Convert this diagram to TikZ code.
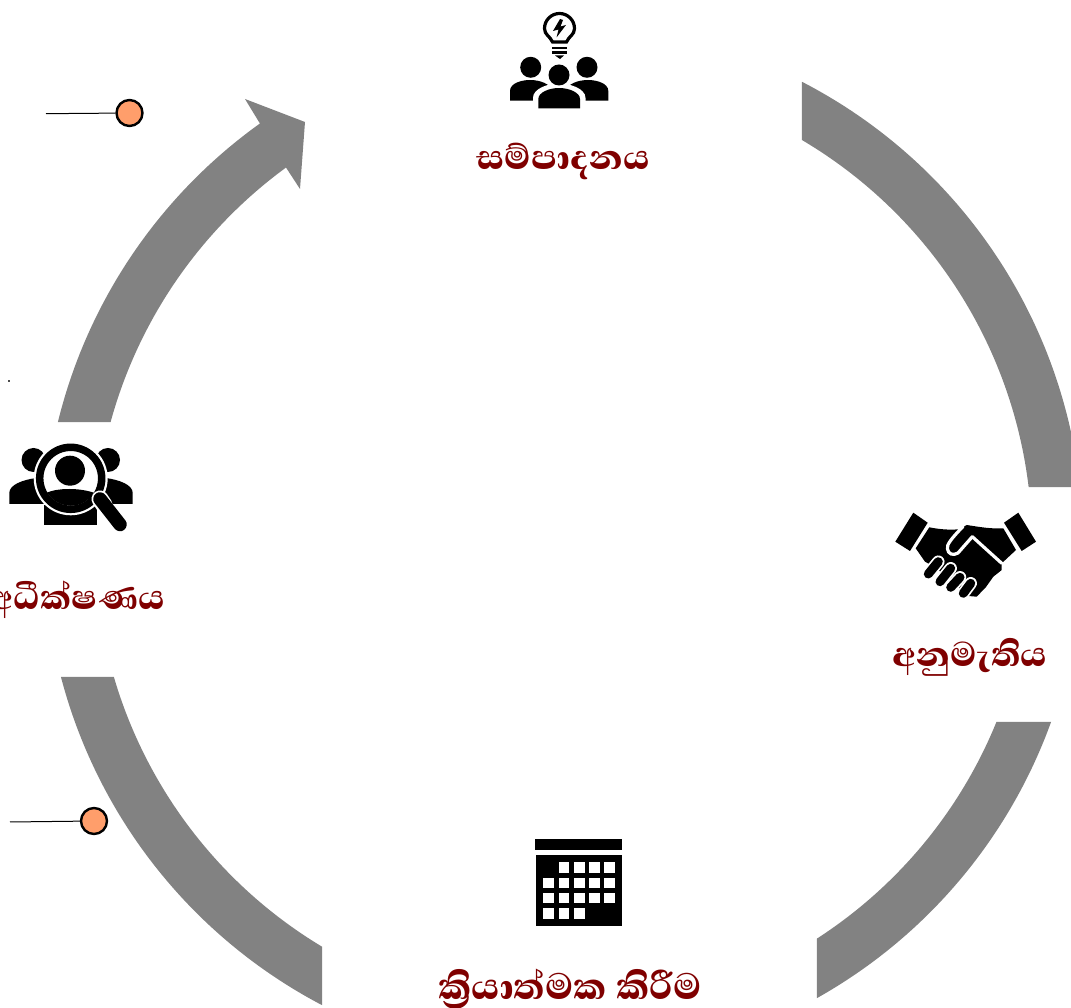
\documentclass[tikz,border=0pt]{standalone}
\usepackage{fontspec}
\newfontfamily\sinfont[Script=Sinhala,BoldFont={Abhaya Libre ExtraBold}]{Abhaya Libre}
\definecolor{lab}{HTML}{7F0000}
\definecolor{seg}{HTML}{828282}
\definecolor{dotc}{HTML}{FF9E6B}
\tikzset{
 lbl/.style={font=\sinfont\bfseries\fontsize{44}{48}\selectfont,text=lab,inner sep=0pt,anchor=center},
 lblb/.style={lbl,font=\sinfont\bfseries\fontsize{47}{50}\selectfont},
 ball/.style={circle,draw=black,line width=2.4pt,fill=dotc,minimum size=26pt,inner sep=0pt},
 lead/.style={draw=black,line width=1pt},
 speck/.style={fill=black!70,inner sep=0pt,minimum size=2.5pt,rectangle},
 px/.style={yscale=-1,yshift=-1007pt},
 cut/.style={draw=white,line width=3.2pt,line cap=round,line join=round}
}
\begin{document}
\begin{tikzpicture}[x=1pt,y=1pt]
\useasboundingbox (0,0) rectangle (1071,1007);
\clip (0,0) rectangle (1071,1007);
\begin{scope}[shift={(564,464)}]
\fill[seg] ({acos(238/519)}:519) arc[start angle={acos(238/519)},end angle={asin(56/519)},radius=519]
 -- ({asin(56/468)}:468) arc[start angle={asin(56/468)},end angle={acos(238/468)},radius=468] -- cycle;
\end{scope}
\begin{scope}[shift={(563,461.5)}]
\fill[seg] ({-asin(176.5/519)}:519) arc[start angle={-asin(176.5/519)},end angle={-acos(254/519)},radius=519]
 -- ({-acos(254/468)}:468) arc[start angle={-acos(254/468)},end angle={-asin(176.5/468)},radius=468] -- cycle;
\fill[seg] ({180+acos(241/519)}:519) arc[start angle={180+acos(241/519)},end angle={180+asin(131.5/519)},radius=519]
 -- ({180+asin(131.5/468)}:468) arc[start angle={180+asin(131.5/468)},end angle={180+acos(241/468)},radius=468] -- cycle;
\end{scope}
\begin{scope}[shift={(562,461.5)}]
\fill[seg] ({180-asin(123.5/519)}:519) arc[start angle={180-asin(123.5/519)},end angle={180-atan(423.5/303)},radius=519]
 -- (-303,423.5) -- (-317,446.5) -- (-257,423.5) -- (-262,356.5) -- (-277,379.5)
 -- ({180-atan(379.5/277)}:468) arc[start angle={180-atan(379.5/277)},end angle={180-asin(123.5/468)},radius=468] -- cycle;
\end{scope}
\begin{scope}[px]
% top icon: bulb and people
\draw[line width=3.2pt,black] (552.5,42) .. controls (550,36) and (544.5,35) .. (544.5,28.5) arc[start angle=180,end angle=360,radius=15] .. controls (574.5,35) and (569,36) .. (566.5,42) -- cycle;
\fill (552,47) rectangle (567,49.5);
\fill (552,51.5) rectangle (567,54);
\fill (555,55.5) -- (564,55.5) -- (560,59) -- cycle;
\fill (560,19) -- (553,31) -- (558.5,29.5) -- (556.5,37.5) -- (566,25) -- (560.5,26.5) -- (563,20) -- cycle;
\fill (530.7,67.3) circle (10.5);
\fill (587,67.3) circle (10.5);
\fill (510,100.7) -- (510,91) .. controls (510,83) and (522,80) .. (530,80) .. controls (540,80) and (550,84) .. (552,90) -- (552,100.7) -- cycle;
\fill (608.3,100.7) -- (608.3,91) .. controls (608.3,83) and (596,80) .. (588,80) .. controls (578,80) and (568,84) .. (566,90) -- (566,100.7) -- cycle;
\filldraw[fill=white,draw=white,line width=3pt] (534.5,108.3) -- (534.5,98) .. controls (534.5,90) and (548,85) .. (559,85) .. controls (570,85) and (584,90) .. (584,98) -- (584,108.3) -- cycle;
\fill (538.3,108.3) -- (538.3,99) .. controls (538.3,92.5) and (549,88) .. (559,88) .. controls (569,88) and (580,92.5) .. (580,99) -- (580,108.3) -- cycle;
\filldraw[fill=white,draw=white,line width=1.5pt] (559,75) circle (12);
\fill (559,75) circle (10.5);
% left icon: people under magnifier
\fill (33.5,460) circle (12);
\fill (108,460) circle (12);
\fill (9.3,504) -- (9.3,493) .. controls (9.3,485) and (22,480) .. (36,478) -- (44,478) -- (44,504) -- cycle;
\fill (132.7,504) -- (132.7,493) .. controls (132.7,485) and (120,480) .. (106,478) -- (98,478) -- (98,504) -- cycle;
\fill (44,525) -- (44,505) -- (97,505) -- (97,525) -- cycle;
\fill[white] (70.7,478.3) circle (37);
\draw[line width=7.5pt,black] (70.7,478.3) circle (31);
\fill (70,470.7) circle (15);
\begin{scope}
\clip (70.7,478.3) circle (27.5);
\fill (40,515) -- (40,496) .. controls (50,490) and (60,489) .. (70,489) .. controls (80,489) and (92,491) .. (102,496) -- (102,515) -- cycle;
\end{scope}
\draw[white,line width=17pt,line cap=round] (100,499) -- (104,505);
\draw[black,line width=13.5pt,line cap=round] (100,499) -- (120,524.5);
% right icon: handshake
\fill (913.3,512.7) -- (927.7,522.7) -- (910,551) -- (895.3,541.7) -- cycle;
\fill (1018.3,512.7) -- (1004,522.7) -- (1021.7,551) -- (1036,541.7) -- cycle;
\fill (929.3,527.3) .. controls (942,530) and (955,530) .. (960,529) -- (966.7,525) .. controls (980,527) and (990,529) .. (1003.3,528.3) -- (1016,550) -- (1001.7,563.3) -- (1001.7,570) -- (993.3,576.7) -- (986,587) -- (976.7,596.7) -- (968.3,596) -- (935,567) -- (925,561.7) -- (915.7,548.3) -- cycle;
\draw[cut] (972.3,536.7) -- (1001.7,563.3);
\draw[cut] (972.3,536.7) -- (958,553) .. controls (953,556) and (948,554) .. (947.5,549) .. controls (946,545) and (952,538) .. (963,526.5);
\foreach \a/\b/\c/\d in {928.3/574/938.3/561.7,940/581.7/950.7/568.3,950.7/587.3/960/577.3,963.3/593.3/970.7/583.3}{
  \draw[white,line width=12.5pt,line cap=round] (\a,\b) -- (\c,\d);
}
\foreach \a/\b/\c/\d in {928.3/574/938.3/561.7,940/581.7/950.7/568.3,950.7/587.3/960/577.3,963.3/593.3/970.7/583.3}{
  \draw[black,line width=9pt,line cap=round] (\a,\b) -- (\c,\d);
}
% bottom icon: calendar
\fill (535,839) rectangle (622,850);
\fill (536,855) rectangle (622,926);
\foreach \cx/\ry in {558.7/862.3,574/862.3,589.3/862.3,604.3/862.3,
  543.3/877.7,558.7/877.7,574/877.7,589.3/877.7,604.3/877.7,
  543.3/893,558.7/893,574/893,589.3/893,604.3/893,
  543.3/908.3,558.7/908.3,574/908.3}{
  \fill[white] (\cx,\ry) rectangle ++(10.5,10.5);
}
% labels
\node[lbl] (sampadanaya) at (563,161) {සම්පාදනය};
\node[lbl] (anumatiya) at (970,657) {අනුමැතිය};
\node[lblb] (kriya) at (570,989) {ක්^^^^200dරියාත්මක කිරීම};
\node[lbl] (adhik) at (77.5,600) {අධීක්ෂණය};
% balls and leads
\node[ball] (ballA) at (129.5,113) {};
\node[ball] (ballB) at (94,821) {};
\coordinate (leadA) at (46,113.7);
\coordinate (leadB) at (10,822);
\draw[lead] (leadA) -- (ballA);
\draw[lead] (leadB) -- (ballB);
\node[speck] (speck) at (9,381) {};
\end{scope}
\end{tikzpicture}
\end{document}
